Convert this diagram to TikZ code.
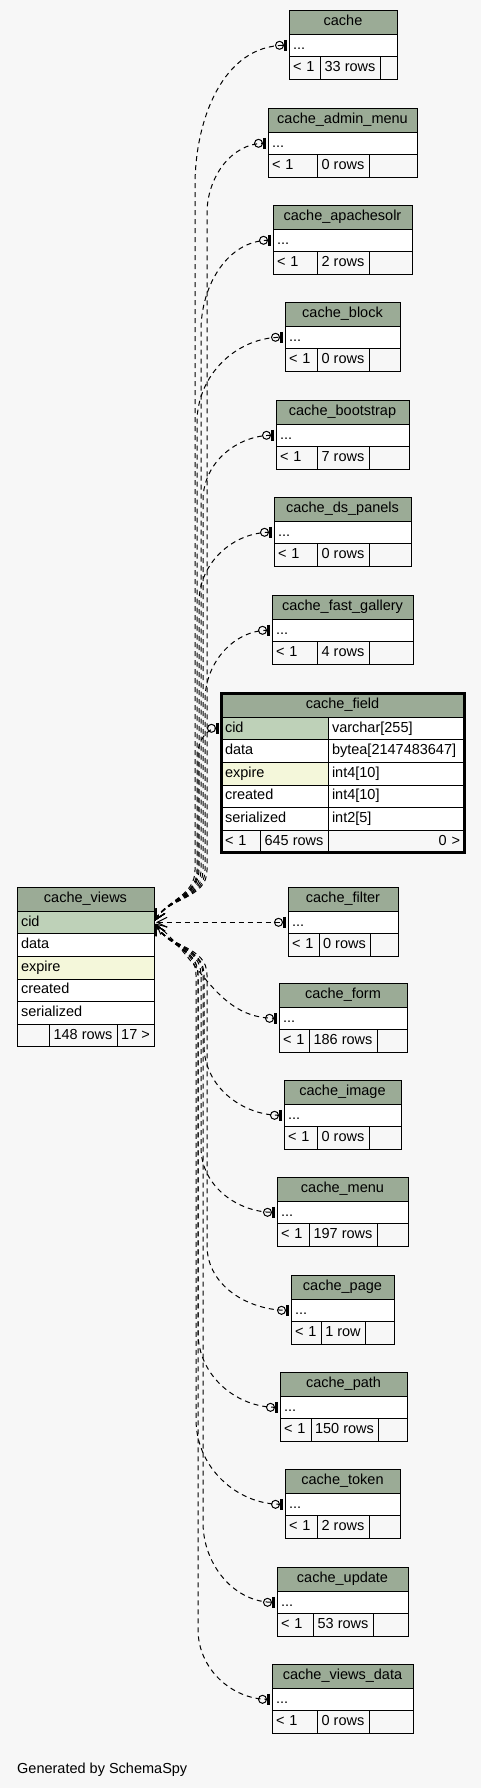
\documentclass[tikz,border=0pt]{standalone}
\usepackage{fontspec}
\setmainfont{Liberation Sans}
\usetikzlibrary{arrows.meta, positioning, fit, calc}
\setlength{\parindent}{0pt}
\definecolor{headgreen}{HTML}{9BAB96}
\definecolor{pkgreen}{HTML}{BED1B8}
\definecolor{idxyellow}{HTML}{F4F7DA}
\definecolor{pagegray}{HTML}{F7F7F7}
\tikzstyle{tablehead} = [rectangle, draw=black, fill=headgreen, inner sep=0pt, outer sep=0pt, minimum height=24pt, anchor=north west, text height=10.5pt, text depth=3pt]
\tikzstyle{cell} = [rectangle, draw=black, fill=white, inner xsep=4pt, inner ysep=0pt, outer sep=0pt, minimum height=22.6pt, anchor=north west, text height=10.5pt, text depth=3pt, align=left]
\tikzstyle{pkcell} = [cell, fill=pkgreen]
\tikzstyle{idxcell} = [cell, fill=idxyellow]
\tikzstyle{footcell} = [cell, fill=pagegray]
\tikzstyle{fk} = [line width=1pt, dash pattern=on 5pt off 4pt, {Straight Barb[length=10pt,width=10pt]}-{Circle[open,length=9pt,width=9pt]Bar[width=11pt,line width=3pt]}, shorten <=2pt, shorten >=2pt]

% table with one "..." row: id, x, y, title, three footer widths, row count
\newcommand{\dotstable}[8]{%
  \pgfmathsetmacro{\tw}{#5+#6+#7}%
  \pgfmathsetmacro{\ttw}{#5+#6+#7-8}%
  \pgfmathsetmacro{\ltw}{#5-8}%
  \node[tablehead, minimum width=\tw pt] (#1) at (#2,#3) {#4};
  \node[cell, minimum width=\tw pt, text width=\ttw pt] (#1-dots) at (#1.south west) {...};
  \node[footcell, minimum width=#5pt, text width=\ltw pt] (#1-lt) at (#1-dots.south west) {<~1};
  \node[footcell, minimum width=#6pt] (#1-rows) at (#1-lt.north east) {#8};
  \node[footcell, minimum width=#7pt] (#1-refs) at (#1-rows.north east) {};
}

\begin{document}
\begin{tikzpicture}[x=1pt, y=-1pt, font=\fontsize{14.5}{17}\selectfont]
\fill[pagegray] (0,0) rectangle (481,1788);
\useasboundingbox (0,0) rectangle (481,1788);

% parent tables
\dotstable{cache}{289}{10}{cache}{31}{60}{17}{33 rows}
\dotstable{adminmenu}{268}{108}{cache\_admin\_menu}{49}{52}{48}{0 rows}
\dotstable{apachesolr}{273}{205}{cache\_apachesolr}{44}{52}{43}{2 rows}
\dotstable{block}{285}{302}{cache\_block}{32}{52}{31}{0 rows}
\dotstable{bootstrap}{276}{400}{cache\_bootstrap}{41}{52}{40}{7 rows}
\dotstable{dspanels}{274}{497}{cache\_ds\_panels}{43}{52}{42}{0 rows}
\dotstable{fastgallery}{272}{595}{cache\_fast\_gallery}{45}{52}{44}{4 rows}
\dotstable{filter}{288}{887}{cache\_filter}{31}{51}{28}{0 rows}
\dotstable{form}{279}{983}{cache\_form}{30}{68}{30}{186 rows}
\dotstable{image}{284}{1080}{cache\_image}{33}{52}{32}{0 rows}
\dotstable{menu}{277}{1177}{cache\_menu}{32}{68}{31}{197 rows}
\dotstable{page}{291}{1275}{cache\_page}{30}{44}{29}{1 row}
\dotstable{path}{280}{1372}{cache\_path}{31}{67}{29}{150 rows}
\dotstable{token}{285}{1469}{cache\_token}{32}{52}{31}{2 rows}
\dotstable{update}{277}{1567}{cache\_update}{36}{60}{35}{53 rows}
\dotstable{viewsdata}{272}{1664}{cache\_views\_data}{45}{52}{44}{0 rows}

% cache_field, shown with its columns
\node[tablehead, minimum width=243pt] (field) at (221,693) {cache\_field};
\node[pkcell, minimum width=107pt, text width=99pt] (field-cid) at (field.south west) {cid};
\node[cell, minimum width=136pt, text width=128pt] (field-cid-type) at (field-cid.north east) {varchar[255]};
\node[cell, minimum width=107pt, text width=99pt] (field-data) at (field-cid.south west) {data};
\node[cell, minimum width=136pt, text width=128pt] (field-data-type) at (field-data.north east) {bytea[2147483647]};
\node[idxcell, minimum width=107pt, text width=99pt] (field-expire) at (field-data.south west) {expire};
\node[cell, minimum width=136pt, text width=128pt] (field-expire-type) at (field-expire.north east) {int4[10]};
\node[cell, minimum width=107pt, text width=99pt] (field-created) at (field-expire.south west) {created};
\node[cell, minimum width=136pt, text width=128pt] (field-created-type) at (field-created.north east) {int4[10]};
\node[cell, minimum width=107pt, text width=99pt] (field-serialized) at (field-created.south west) {serialized};
\node[cell, minimum width=136pt, text width=128pt] (field-serialized-type) at (field-serialized.north east) {int2[5]};
\node[footcell, minimum width=39pt, text width=31pt] (field-lt) at (field-serialized.south west) {<~1};
\node[footcell, minimum width=68pt] (field-rows) at (field-lt.north east) {645 rows};
\node[footcell, minimum width=136pt, text width=128pt, align=right] (field-refs) at (field-rows.north east) {0~>};
\node[fit=(field) (field-lt) (field-refs), draw, line width=3pt, inner sep=0pt] (field-box) {};

% cache_views, the child table
\node[tablehead, minimum width=137pt] (views) at (17,887) {cache\_views};
\node[pkcell, minimum width=137pt, text width=129pt] (views-cid) at (views.south west) {cid};
\node[cell, minimum width=137pt, text width=129pt] (views-data) at (views-cid.south west) {data};
\node[idxcell, minimum width=137pt, text width=129pt] (views-expire) at (views-data.south west) {expire};
\node[cell, minimum width=137pt, text width=129pt] (views-created) at (views-expire.south west) {created};
\node[cell, minimum width=137pt, text width=129pt] (views-serialized) at (views-created.south west) {serialized};
\node[footcell, minimum width=32pt] (views-lt) at (views-serialized.south west) {};
\node[footcell, minimum width=68pt] (views-rows) at (views-lt.north east) {148 rows};
\node[footcell, minimum width=37pt] (views-refs) at (views-rows.north east) {17~>};

% relationships going up
\foreach \t/\c/\r in {cache/195/140, adminmenu/207/70, apachesolr/201/90, block/197/85, bootstrap/203/65, dspanels/199/70, fastgallery/205/70}
  \draw[fk] (views-cid.east) to[out=60,in=-90] (\c,870) -- ($(\t-dots.west -| \c,0)+(0,\r)$) to[out=90,in=180] (\t-dots.west);
\draw[fk] (views-cid.east) to[out=60,in=-90] (198,870) -- ($(field-cid.west -| 198,0)+(0,25)$) to[out=90,in=180] (field-cid.west);

% relationships going down
\draw[fk] (views-cid.east) -- (filter-dots.west);
\draw[fk] (views-cid.east) to[out=-40,in=180] (form-dots.west);
\foreach \t/\c/\r in {image/204/70, menu/201/65, page/207/65, path/198/75, token/196/85, update/203/80, viewsdata/198/70}
  \draw[fk] (views-cid.east) to[out=-60,in=90] (\c,975) -- ($(\t-dots.west -| \c,0)+(0,-\r)$) to[out=-90,in=180] (\t-dots.west);

\node[anchor=base west, inner sep=0pt] (credit) at (17,1773) {Generated by SchemaSpy};
\end{tikzpicture}
\end{document}
